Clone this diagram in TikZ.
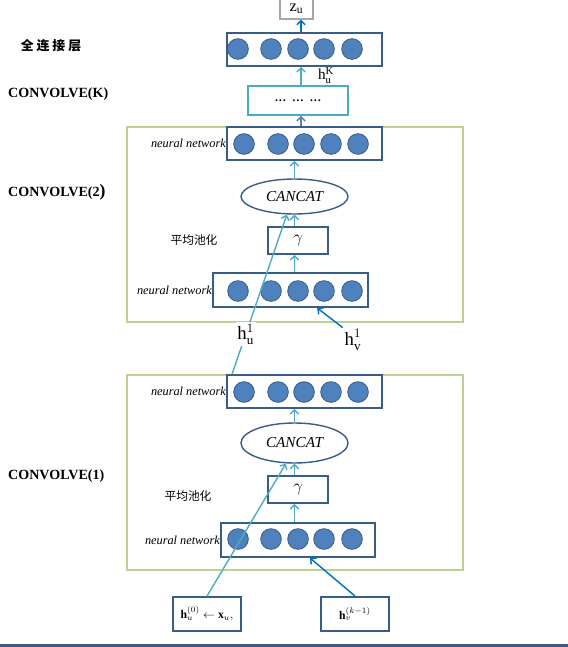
\documentclass[tikz,border=0pt]{standalone}
\usepackage{fontspec}
\setmainfont{Liberation Serif}
\newfontfamily\cjk{Noto Sans CJK SC}
\usetikzlibrary{shapes.geometric,arrows.meta}
\definecolor{boxblue}{HTML}{385D8A}
\definecolor{dotblue}{HTML}{4F81BD}
\definecolor{lineblue}{HTML}{4BACC6}
\definecolor{arrblue}{HTML}{0070C0}
\definecolor{framegreen}{HTML}{BCD192}
\definecolor{bargray}{HTML}{3F5A80}
\tikzset{
  >={Straight Barb[length=3.5pt,width=7pt]},
  nnbox/.style={draw=boxblue, line width=1.6pt, minimum width=4.65cm, minimum height=0.99cm, inner sep=0pt},
  dot/.style={circle, draw=boxblue, fill=dotblue, line width=0.7pt, minimum size=0.62cm, inner sep=0pt},
  gambox/.style={draw=boxblue, line width=1.6pt, minimum width=1.8cm, minimum height=0.81cm, inner sep=0pt, font=\fontsize{15}{17}\selectfont},
  catell/.style={ellipse, draw=boxblue, line width=1.2pt, minimum width=3.21cm, inner sep=0pt, font=\itshape\fontsize{13}{15}\selectfont},
  inbox/.style={draw=boxblue, line width=1.6pt, minimum width=2.04cm, minimum height=1.02cm, inner sep=0pt, font=\fontsize{10}{11}\selectfont},
  convlab/.style={anchor=west, inner sep=0pt, font=\bfseries\fontsize{12}{14}\selectfont},
  nnlab/.style={anchor=east, inner sep=0pt, font=\itshape\fontsize{10.5}{12}\selectfont},
  cnlab/.style={inner sep=0pt, font=\cjk\fontsize{10}{12}\selectfont},
  hlab/.style={inner sep=1.5pt, font=\fontsize{16}{18}\selectfont},
  lb/.style={draw=lineblue, line width=1.2pt},
  ab/.style={draw=arrblue, line width=1.2pt}
}
\begin{document}
\begin{tikzpicture}[x=0.03cm, y=-0.03cm]
\useasboundingbox (0,0) rectangle (568,647);
\fill[bargray] (0,643.5) rectangle (568,647);
% frames of the two convolve steps
\draw[framegreen, line width=1.2pt] (127,127) rectangle (463,322);
\draw[framegreen, line width=1.2pt] (127,375) rectangle (463,570);
% top part
\node[draw=black!35, line width=1.2pt, minimum width=0.99cm, minimum height=0.6cm, inner sep=0pt, font=\fontsize{14}{16}\selectfont] (zu) at (296.5,9) {$\mathrm{z}_\mathrm{u}$};
\node[nnbox] (fc) at (304.5,49.5) {};
\node[draw=lineblue, line width=1.6pt, minimum width=3cm, minimum height=0.87cm, inner sep=0pt, font=\bfseries] (dots) at (298,100.5) {\dots\ \ \dots\ \ \dots};
\coordinate (axisK) at (301,0);
% convolve(2)
\node[nnbox] (ctwot) at (304.5,143.5) {};
\node[catell, minimum height=1.05cm] (ctwoc) at (294.5,196.5) {CANCAT};
\node[gambox] (ctwog) at (298,240.5) {$\gamma$};
\node[nnbox, minimum height=1.02cm] (ctwob) at (290.5,290) {};
% convolve(1)
\node[nnbox] (conet) at (304.5,391.5) {};
\node[catell, minimum height=1.2cm] (conec) at (294.5,443) {CANCAT};
\node[gambox] (coneg) at (298,489.5) {$\gamma$};
\node[nnbox, minimum width=4.62cm, minimum height=1.02cm] (coneb) at (298,540) {};
% inputs
\node[inbox] (hu0) at (207,614) {$\mathbf{h}_u^{(0)}\leftarrow\mathbf{x}_u,$};
\node[inbox] (hvk) at (355,614) {$\mathbf{h}_v^{(k-1)}$};
% neurons
\foreach \y/\n in {49/fc, 291/ctwob, 539/coneb}
  \foreach [count=\i] \x in {238,271,298,324,352}
    \node[dot] (\n\i) at (\x,\y) {};
\foreach \y/\n in {144/ctwot, 392/conet}
  \foreach [count=\i] \x in {244,278,304,331,358}
    \node[dot] (\n\i) at (\x,\y) {};
\node[fill=white, inner sep=0.5pt, font=\fontsize{13}{15}\selectfont] (huK) at (326,75.5) {$\mathrm{h}_\mathrm{u}^\mathrm{K}$};
% labels
\node[inner sep=0pt, font=\cjk\bfseries\fontsize{11}{13}\selectfont] (fclab) at (51,46) {全\hspace{2.5pt}连\hspace{2.5pt}接\hspace{2.5pt}层};
\node[convlab] (convK) at (8,94) {CONVOLVE(K)};
\node[convlab] (convtwo) at (8,192) {CONVOLVE(2{\fontsize{15}{15}\selectfont)}};
\node[convlab] (convone) at (8,476) {CONVOLVE(1)};
\node[cnlab] (pooltwo) at (194,240) {平均池化};
\node[cnlab] (poolone) at (188,496) {平均池化};
\node[nnlab] at (ctwot.west) {neural network};
\node[nnlab] at (ctwob.west) {neural network};
\node[nnlab] at (conet.west) {neural network};
\node[nnlab] at (coneb.west) {neural network};
% arrows
\draw[ab, ->] (fc.north -| axisK) -- (zu.south -| axisK);
\draw[lb, ->] (dots.north -| axisK) -- (fc.south -| axisK);
\draw[draw=dotblue, line width=1.2pt, ->] (ctwot.north -| axisK) -- (dots.south -| axisK);
\draw[lb, ->] (ctwob.north -| ctwoc) -- (ctwog.south -| ctwoc);
\draw[lb, ->] (ctwog.north -| ctwoc) -- (ctwoc.south);
\draw[lb, ->] (ctwoc.north) -- (ctwot.south -| ctwoc);
\draw[lb, ->] (coneb.north -| conec) -- (coneg.south -| conec);
\draw[lb, ->] (coneg.north -| conec) -- (conec.south);
\draw[lb, ->] (conec.north) -- (conet.south -| conec);
\draw[lb, ->] ([xshift=0.18cm]conet.north west) -- node[pos=0.25, fill=white, hlab] (hu1) {$\mathrm{h}_\mathrm{u}^1$} ([xshift=-0.23cm]ctwoc.south);
\node[hlab] (hv1) at (353,340) {$\mathrm{h}_\mathrm{v}^1$};
\draw[ab, ->] (hv1.north west) -- ([xshift=0.8cm]ctwob.south);
\draw[lb, ->] (hu0.north) -- ([xshift=-0.26cm]conec.south);
\draw[ab, ->] (hvk.north) -- ([xshift=0.36cm]coneb.south);
\end{tikzpicture}
\end{document}
